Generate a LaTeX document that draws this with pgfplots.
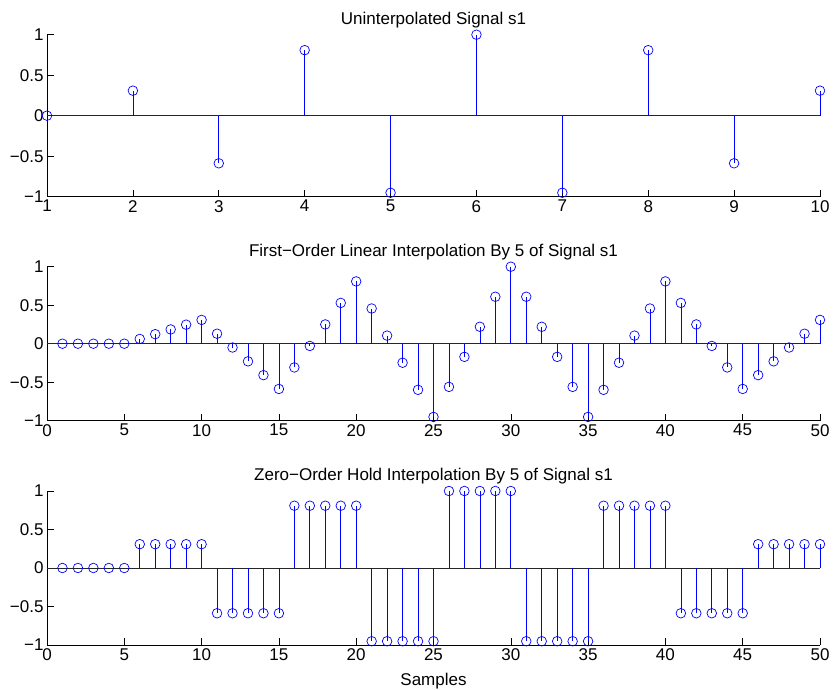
\documentclass[border=0pt]{standalone}
\usepackage{fontspec}
\setmainfont{Liberation Sans}
\usepackage{pgfplots}
\pgfplotsset{compat=1.18}
\definecolor{mblue}{rgb}{0,0,1}
\pgfplotsset{
  sp/.style={
    scale only axis, width=773pt, anchor=south west,
    axis x line=bottom, axis y line=left,
    axis line style={-, black, line width=0.6pt},
    tick align=inside, major tick length=7pt,
    tick style={black, line width=0.6pt},
    ymin=-1, ymax=1, ytick={-1,-0.5,0,0.5,1},
    yticklabels={−1,−0.5,0,0.5,1},
    tick label style={font=\fontsize{17}{19}\selectfont},
    title style={font=\fontsize{17}{19}\selectfont, yshift=-3pt},
    label style={font=\fontsize{17}{19}\selectfont},
    clip=false,
  },
  stem/.style={mblue, ycomb, line width=0.7pt, mark=o, mark size=4.8pt,
    mark options={solid, line width=0.7pt}},
  base/.style={black!85, line width=0.8pt, no marks},
}
\begin{document}
\begin{tikzpicture}
\useasboundingbox (0pt,0pt) rectangle (833pt,690pt);
\begin{axis}[sp, at={(47pt,493.3pt)}, height=162pt, xmin=1, xmax=10,
  xtick={1,2,...,10}, xticklabels={1,2,3,4,5,6,7,8,9,10},
  title={Uninterpolated Signal s1}]
\addplot[base] coordinates {(1,0) (10,0)};
\addplot[stem] coordinates {(1,0) (2,0.3090) (3,-0.5878) (4,0.8090) (5,-0.9511) (6,1) (7,-0.9511) (8,0.8090) (9,-0.5878) (10,0.3090)};
\end{axis}
\begin{axis}[sp, at={(47pt,269.3pt)}, height=154pt, xmin=0, xmax=50,
  xtick={0,5,...,50}, xticklabels={0,5,10,15,20,25,30,35,40,45,50},
  title={First−Order Linear Interpolation By 5 of Signal s1}]
\addplot[base] coordinates {(0,0) (50,0)};
\addplot[stem] coordinates {
(1,0) (2,0) (3,0) (4,0) (5,0)
(6,0.0618) (7,0.1236) (8,0.1854) (9,0.2472) (10,0.3090)
(11,0.1296) (12,-0.0497) (13,-0.2291) (14,-0.4084) (15,-0.5878)
(16,-0.3084) (17,-0.0291) (18,0.2503) (19,0.5296) (20,0.8090)
(21,0.4570) (22,0.1050) (23,-0.2471) (24,-0.5991) (25,-0.9511)
(26,-0.5609) (27,-0.1707) (28,0.2197) (29,0.6098) (30,1.0000)
(31,0.6098) (32,0.2196) (33,-0.1707) (34,-0.5609) (35,-0.9511)
(36,-0.5991) (37,-0.2471) (38,0.1050) (39,0.4570) (40,0.8090)
(41,0.5296) (42,0.2503) (43,-0.0291) (44,-0.3084) (45,-0.5878)
(46,-0.4084) (47,-0.2291) (48,-0.0497) (49,0.1296) (50,0.3090)};
\end{axis}
\begin{axis}[sp, at={(47pt,45pt)}, height=154pt, xmin=0, xmax=50,
  xtick={0,5,...,50}, xticklabels={0,5,10,15,20,25,30,35,40,45,50},
  title={Zero−Order Hold Interpolation By 5 of Signal s1},
  xlabel={Samples}, xlabel style={yshift=-6pt}]
\addplot[base] coordinates {(0,0) (50,0)};
\addplot[stem] coordinates {
(1,0) (2,0) (3,0) (4,0) (5,0)
(6,0.3090) (7,0.3090) (8,0.3090) (9,0.3090) (10,0.3090)
(11,-0.5878) (12,-0.5878) (13,-0.5878) (14,-0.5878) (15,-0.5878)
(16,0.8090) (17,0.8090) (18,0.8090) (19,0.8090) (20,0.8090)
(21,-0.9511) (22,-0.9511) (23,-0.9511) (24,-0.9511) (25,-0.9511)
(26,1) (27,1) (28,1) (29,1) (30,1)
(31,-0.9511) (32,-0.9511) (33,-0.9511) (34,-0.9511) (35,-0.9511)
(36,0.8090) (37,0.8090) (38,0.8090) (39,0.8090) (40,0.8090)
(41,-0.5878) (42,-0.5878) (43,-0.5878) (44,-0.5878) (45,-0.5878)
(46,0.3090) (47,0.3090) (48,0.3090) (49,0.3090) (50,0.3090)};
\end{axis}
\end{tikzpicture}
\end{document}
